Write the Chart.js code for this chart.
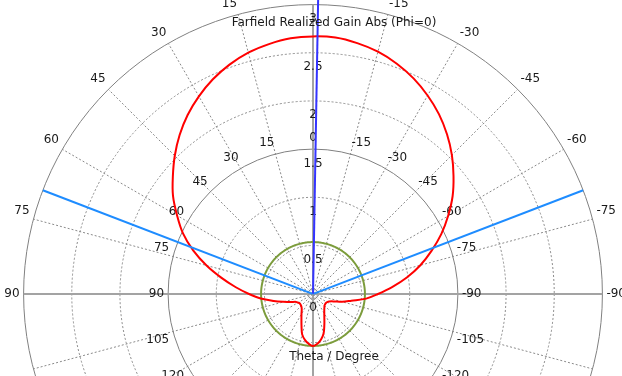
<!DOCTYPE html>
<html>
<head>
<meta charset="utf-8">
<script src="https://cdn.jsdelivr.net/npm/chart.js@4/dist/chart.umd.min.js"></script>
<style>
  html, body { margin: 0; padding: 0; background: #fff; }
  #wrap { position: relative; width: 622px; height: 376px; overflow: hidden; background: #fff; }
  #polar { position: absolute; left: 0; top: 0; }
  .cap { position: absolute; font: 12px 'DejaVu Sans'; line-height: 14px; color: #1a1a1a;
         white-space: nowrap; transform: translateX(-50%); }
</style>
</head>
<body>
<div id="wrap">
  <canvas id="polar" width="626" height="700"></canvas>
  <div class="cap" style="left:334px; top:15px">Farfield Realized Gain Abs (Phi=0)</div>
  <div class="cap" style="left:334px; top:349px">Theta / Degree</div>
</div>
<script>
// Realized gain (linear) versus theta, phi = 0 cut
const thetaDeg = [
  -180, -175, -170, -165, -160, -155, -150, -145, -140, -135, -130, -125,
  -120, -115, -110, -105, -100,  -95,  -90,  -85,  -80,  -75,  -70,  -65,
   -60,  -55,  -50,  -45,  -40,  -35,  -30,  -25,  -20,  -15,  -10,   -5,
     0,    5,   10,   15,   20,   25,   30,   35,   40,   45,   50,   55,
    60,   65,   70,   75,   80,   85,   90,   95,  100,  105,  110,  115,
   120,  125,  130,  135,  140,  145,  150,  155,  160,  165,  170,  175
];
const gainAbs = [
  0.535, 0.515, 0.475, 0.42,  0.34,  0.275, 0.23,  0.20,  0.18,  0.165, 0.16,  0.16,
  0.165, 0.18,  0.22,  0.31,  0.40,  0.55,  0.67,  0.82,  0.985, 1.15,  1.305, 1.465,
  1.615, 1.765, 1.90,  2.035, 2.16,  2.275, 2.375, 2.465, 2.54,  2.60,  2.64,  2.668,
  2.67,  2.66,  2.63,  2.59,  2.53,  2.455, 2.365, 2.265, 2.15,  2.025, 1.895, 1.77,
  1.625, 1.485, 1.32,  1.14,  0.96,  0.80,  0.66,  0.54,  0.41,  0.31,  0.24,  0.19,
  0.175, 0.165, 0.165, 0.17,  0.18,  0.20,  0.235, 0.28,  0.345, 0.43,  0.48,  0.515
];

// Radial axis ticks and the two solid reference rings
const tickValues = [0, 0.5, 1, 1.5, 2, 2.5, 3];
const solidRings = [1.5, 3];
const innerRingValue = 1.5;
const radialMax = 3;

// Annotations: main lobe direction, half-power (3 dB) edges, side lobe level
const mainLobeDirDeg = -1;
const mainLobeReach = 3.06;
const halfPowerDeg = [68.8, -68.7];
const sideLobeLevel = 0.535;

// Theta labels every 15 degrees; one radar category per degree, clockwise from the top
const angleLabelStep = 15;
const N = 360;
const categories = Array.from({ length: N }, (_, i) => {
  const th = i < 180 ? -i : 360 - i;
  return th % angleLabelStep === 0 ? String(th) : '';
});
const idxOf = th => ((Math.round(-th) % N) + N) % N;

const emptySeries = () => new Array(N).fill(null);
const gainSeries = emptySeries();
thetaDeg.forEach((t, k) => { gainSeries[idxOf(t)] = gainAbs[k]; });
const sllSeries = new Array(N).fill(sideLobeLevel);
function ray(th, reach) {
  const s = emptySeries();
  const i = idxOf(th);
  s[i] = reach;
  s[(i + 1) % N] = 0;   // zero radius sits on the origin
  return s;
}

const FONT = { family: 'DejaVu Sans', size: 12 };
const TEXT = '#1a1a1a';
const LABEL_GAP = 4;          // gap between a ring and its theta labels
const BACKDROP_EXTRA = 8;     // Chart.js adds half the tick backdrop height to point labels
const isAxis = i => i % 90 === 0;
const isLowerHalf = i => i > 90 && i < 270;

// Theta labels around the inner 1.5 ring, placed like the outer point labels
const innerAngleLabels = {
  id: 'innerAngleLabels',
  beforeDatasetsDraw(chart) {
    const s = chart.scales.r;
    const ctx = chart.ctx;
    const dist = s.getDistanceFromCenterForValue(innerRingValue) + LABEL_GAP;
    const lh = FONT.size * 1.2;
    ctx.save();
    ctx.font = FONT.size + 'px "' + FONT.family + '"';
    ctx.fillStyle = TEXT;
    ctx.textBaseline = 'middle';
    chart.data.labels.forEach((label, i) => {
      if (!label) return;
      const p = s.getPointPosition(i, dist);
      const ang = Math.round(i * 360 / N) % 360;
      let top = p.y;
      if (ang === 90 || ang === 270) top -= lh / 2;
      else if (ang > 270 || ang < 90) top -= lh;
      ctx.textAlign = (ang === 0 || ang === 180) ? 'center' : (ang < 180 ? 'left' : 'right');
      ctx.fillText(label, p.x, top + lh / 2);
    });
    ctx.restore();
  }
};

const canvas = document.getElementById('polar');
const chart = new Chart(canvas, {
  type: 'radar',
  data: {
    labels: categories,
    datasets: [
      { label: 'Main lobe direction', data: ray(mainLobeDirDeg, mainLobeReach),
        borderColor: '#3434ff', borderWidth: 2, tension: 0, spanGaps: false },
      { label: 'Angular width (3 dB)', data: ray(halfPowerDeg[0], radialMax),
        borderColor: '#1e8cff', borderWidth: 2, tension: 0, spanGaps: false },
      { label: 'Angular width (3 dB)', data: ray(halfPowerDeg[1], radialMax),
        borderColor: '#1e8cff', borderWidth: 2, tension: 0, spanGaps: false },
      { label: 'Realized Gain Abs', data: gainSeries,
        borderColor: '#ff0000', borderWidth: 2, tension: 0.35, spanGaps: true },
      { label: 'Side lobe level', data: sllSeries,
        borderColor: '#7c9c3c', borderWidth: 2, tension: 0 }
    ]
  },
  options: {
    responsive: false,
    animation: false,
    events: [],
    layout: { padding: 0 },
    plugins: { legend: { display: false }, tooltip: { enabled: false } },
    elements: { point: { radius: 0, hoverRadius: 0 }, line: { fill: false } },
    scales: {
      r: {
        min: -0.004,
        max: radialMax,
        startAngle: 0,
        afterBuildTicks: s => { s.ticks = tickValues.map(v => ({ value: v })); },
        ticks: {
          display: true,
          showLabelBackdrop: false,
          color: TEXT,
          font: FONT,
          callback: v => ['', String(v)]
        },
        grid: {
          circular: true,
          color: c => solidRings.includes(c.tick.value) ? '#808080' : '#8a8a8a',
          lineWidth: c => c.tick.value === 0 ? 0 : 1
        },
        border: {
          dash: c => solidRings.includes(c.tick.value) ? [] : [2, 2],
          dashOffset: 0
        },
        angleLines: {
          color: c => isAxis(c.index) ? '#a3a3a3' : '#8a8a8a',
          lineWidth: c => c.index % angleLabelStep !== 0 ? 0 : (isAxis(c.index) ? 2 : 1),
          borderDash: c => isAxis(c.index) ? [] : [2, 2]
        },
        pointLabels: {
          display: true,
          padding: LABEL_GAP - BACKDROP_EXTRA,
          // outer labels on the lower half fall outside the visible frame
          color: c => isLowerHalf(c.index) ? 'rgba(0,0,0,0)' : TEXT,
          font: FONT
        }
      }
    }
  },
  plugins: [innerAngleLabels]
});

// Put the polar origin at its place in the window
const ORIGIN_X = 313, ORIGIN_Y = 294;
const rs = chart.scales.r;
canvas.style.left = (ORIGIN_X - rs.xCenter) + 'px';
canvas.style.top = (ORIGIN_Y - rs.yCenter) + 'px';
</script>
</body>
</html>
